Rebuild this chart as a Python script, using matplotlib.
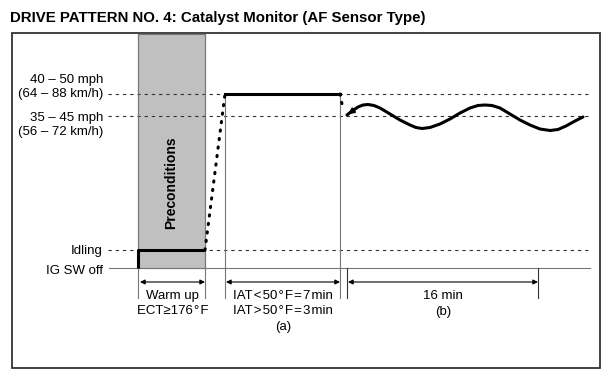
import matplotlib
matplotlib.use("Agg")
import matplotlib.pyplot as plt
from matplotlib.patches import Rectangle

plt.rcParams['font.family'] = ['Liberation Sans', 'DejaVu Sans']

# chart is laid out in pixel-like units (x to the right, y downwards)
title = "DRIVE PATTERN NO. 4: Catalyst Monitor (AF Sensor Type)"

# event marks along the time axis
t_ig_on = 138
t_warm_end = 205
t_cruise_start = 225
t_cruise_end = 340
t_wave_start = 347
t_wave_end = 538

# levels
y_off = 268
y_idle = 250
y_high = 94      # 40-50 mph
y_low = 116      # 35-45 mph

level_labels = ["40 – 50 mph\n(64 – 88 km/h)", "35 – 45 mph\n(56 – 72 km/h)", "Idling", "IG SW off"]
level_label_y = [87, 125, 251, 271]

# speed trace
idle_x = [t_ig_on, t_ig_on, t_warm_end]
idle_y = [y_off, y_idle, y_idle]
accel_x = [t_warm_end, t_cruise_start]
accel_y = [y_idle, y_high]
cruise_x = [t_cruise_start, t_cruise_end]
cruise_y = [y_high, y_high]
drop_x = [t_cruise_end, 343]
drop_y = [y_high, 109]

# wavy section
wave_x = [347, 352, 358, 363, 368, 374, 380, 390, 400, 410, 416, 422, 430, 440, 450,
          460, 470, 478, 485, 492, 500, 510, 520, 530, 540, 550, 558, 566, 575, 583]
wave_y = [115, 111, 107, 105, 104.5, 105.5, 108, 114, 120, 125, 127.5, 128.5, 127.5, 124, 119,
          113, 108, 105.5, 105, 105.5, 108, 114, 120, 125, 129, 130.5, 129.5, 126, 121, 117]

# dimension arrows below the axis
hs = "\u200a"
dims = [(140, 205), (226, 340), (348, 538)]
dim_text = [("Warm up", "ECT≥176" + hs + "°" + hs + "F"),
            (hs.join(["IAT", "<", "50", "°", "F", "=", "7", "min"]),
             hs.join(["IAT", ">", "50", "°", "F", "=", "3", "min"]), "(a)"),
            ("16 min", "(b)")]

fig = plt.figure(figsize=(6.14, 3.81), dpi=100)
ax = fig.add_axes([0, 0, 1, 1])
ax.set_xlim(0, 614)
ax.set_ylim(381, 0)
ax.axis('off')

fig.text(10 / 614, 1 - 18 / 381, title, fontsize=10.8, fontweight='bold', va='center', ha='left')

# outer frame
ax.add_patch(Rectangle((12, 33), 588, 335, fill=False, ec='#333333', lw=1.3))

# preconditions shading
ax.add_patch(Rectangle((t_ig_on, 34), t_warm_end - t_ig_on, y_off - 34, fc='#c0c0c0', ec='#777777', lw=0.8))
ax.text((t_ig_on + t_warm_end) / 2, 183, "Preconditions", rotation=90, ha='center', va='center',
        fontsize=10, fontweight='bold')

# baseline
ax.plot([109, 590], [y_off, y_off], color='#777777', lw=0.8)

# dashed reference levels
for yy in [y_high, y_low, y_idle]:
    ax.plot([108, 588], [yy, yy], color='#333333', lw=0.8, ls=(0, (3, 3.5)))

# vertical marks
for xx, top in [(t_ig_on, 34), (t_warm_end, 34), (t_cruise_start, y_high), (t_cruise_end, y_high),
                (t_wave_start, y_off), (t_wave_end, y_off)]:
    ax.plot([xx, xx], [top, 298], color='#777777' if top != y_off else '#333333', lw=0.8)

# speed trace
ax.plot(idle_x, idle_y, color='black', lw=2.2, solid_capstyle='butt')
ax.plot(accel_x, accel_y, color='black', lw=2.2, ls=(0, (0.4, 2.4)), dash_capstyle='round')
ax.plot(cruise_x, cruise_y, color='black', lw=2.2)
ax.plot(drop_x, drop_y, color='black', lw=2.2, ls=(0, (0.4, 2.4)), dash_capstyle='round')
ax.plot(wave_x, wave_y, color='black', lw=2.2, solid_capstyle='round')
ax.annotate("", xy=(wave_x[0] - 1, wave_y[0] + 1), xytext=(wave_x[2], wave_y[2]),
            arrowprops=dict(arrowstyle='-|>', color='black', lw=1.5, mutation_scale=8))

# level labels
for lab, yy in zip(level_labels, level_label_y):
    ax.text(103, yy, lab, ha='right', va='center', fontsize=9.5, linespacing=1.2)

# dimension arrows and labels
for (x0, x1), lines in zip(dims, dim_text):
    ax.annotate("", xy=(x0, 282), xytext=(x1, 282),
                arrowprops=dict(arrowstyle='<|-|>', color='black', lw=0.8, mutation_scale=7,
                                shrinkA=0, shrinkB=0))
    xc = (x0 + x1) / 2
    for i, s in enumerate(lines):
        ax.text(xc, 296 + 15.5 * i, s, ha='center', va='center', fontsize=9.5)

fig.savefig("out.png", dpi=100)
